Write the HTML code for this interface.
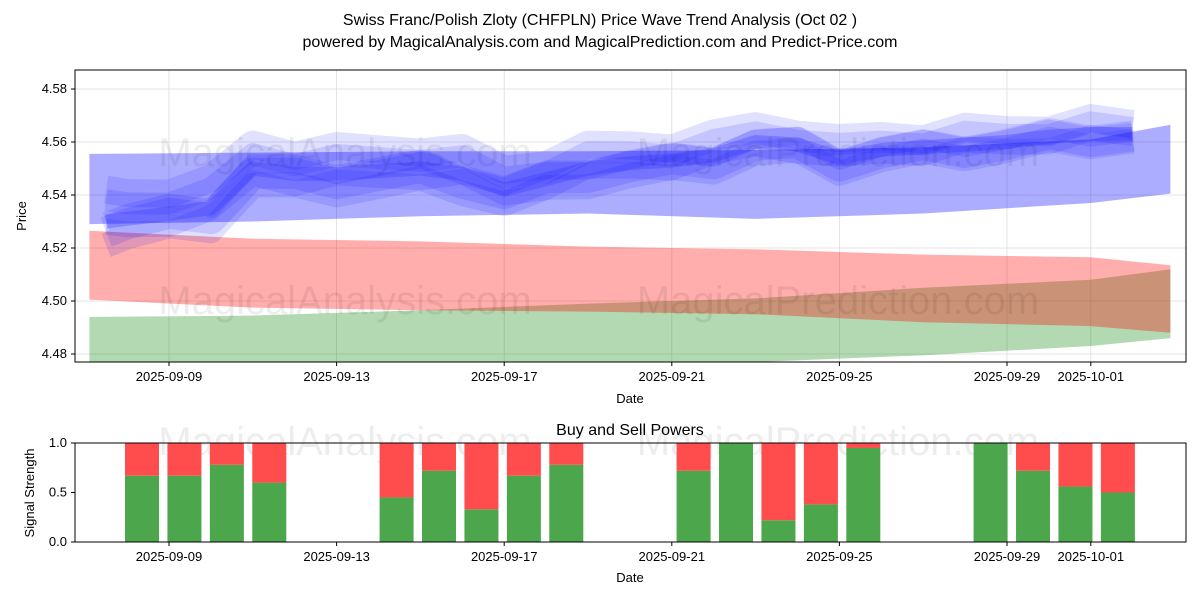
<!DOCTYPE html>
<html><head><meta charset="utf-8"><style>
body{margin:0;background:#fff;font-family:"Liberation Sans",sans-serif}
svg text{font-family:"Liberation Sans",sans-serif}
</style></head><body>
<svg id="c" width="1200" height="600" xmlns="http://www.w3.org/2000/svg">
<text x="600" y="25" text-anchor="middle" font-size="16">Swiss Franc/Polish Zloty (CHFPLN) Price Wave Trend Analysis (Oct 02 )</text>
<text x="600" y="47" text-anchor="middle" font-size="16">powered by MagicalAnalysis.com and MagicalPrediction.com and Predict-Price.com</text>
<g id="topg"></g><g id="bot"></g>
</svg>
<script>
// ---- data ----
const xTickLabels=["2025-09-09","2025-09-13","2025-09-17","2025-09-21","2025-09-25","2025-09-29","2025-10-01"];
const xTickDays=[0,4,8,12,16,20,22];
const yTicks=[4.48,4.50,4.52,4.54,4.56,4.58];
const bandDays=[-1.9,2,6,10,14,18,22,23.9];
const redTop=[4.5265,4.5235,4.5225,4.5205,4.5195,4.5175,4.5165,4.5135];
const redBot=[4.5005,4.4975,4.4965,4.4960,4.4950,4.4920,4.4905,4.4880];
const greenTop=[4.4940,4.4945,4.4965,4.4990,4.5010,4.5050,4.5080,4.5120];
const greenBot=[4.4700,4.4710,4.4730,4.4750,4.4770,4.4795,4.4830,4.4860];
const blueTop=[4.5555,4.5560,4.5565,4.5565,4.5570,4.5580,4.5610,4.5665];
const blueBot=[4.5290,4.5300,4.5320,4.5330,4.5310,4.5330,4.5370,4.5405];
const waveDays=[-1.5,-1,0,1,2,3,4,5,6,7,8,9,10,11,12,13,14,15,16,17,18,19,20,21,22,23];
const waveMain=[4.530,4.531,4.533,4.535,4.550,4.548,4.548,4.549,4.550,4.548,4.542,4.546,4.550,4.552,4.553,4.555,4.560,4.559,4.554,4.557,4.558,4.559,4.560,4.562,4.563,4.563];
const waveOffsets=[-0.004,0.002,0.006,-0.007,0.010,-0.002];
const barDays=[0,1,2,3,6,7,8,9,10,13,14,15,16,17,20,21,22,23];
const buyPower=[0.67,0.67,0.78,0.6,0.45,0.72,0.33,0.67,0.78,0.72,1.0,0.22,0.38,0.95,1.0,0.72,0.56,0.5];
// ---- axes ----
const NS="http://www.w3.org/2000/svg";
const xd=d=>169+41.9*d;
const xbar=d=>142+42.43*d;
const yp=v=>301-(v-4.50)*2650;
const yb=v=>542-v*99;
function mk(p,t,a){const e=document.createElementNS(NS,t);for(const k in a)e.setAttribute(k,a[k]);p.appendChild(e);return e;}
const topG=document.getElementById('topg'),bot=document.getElementById('bot');
const cp=mk(topG,'clipPath',{id:'cp'});mk(cp,'rect',{x:75,y:70,width:1111,height:292});
xTickDays.forEach(d=>{const g=mk(topG,'line',{x1:xd(d),x2:xd(d),y1:70,y2:362,stroke:'#ddd','stroke-width':0.8});});
yTicks.forEach(v=>{const g=mk(topG,'line',{x1:75,x2:1186,y1:yp(v),y2:yp(v),stroke:'#ddd','stroke-width':0.8});});
const pg=mk(topG,'g',{'clip-path':'url(#cp)'});
function band(t,b,col,op,name){let pts=bandDays.map((d,i)=>xd(d)+','+yp(t[i]));pts=pts.concat(bandDays.map((d,i)=>xd(d)+','+yp(b[i])).reverse());const e=mk(pg,'polygon',{points:pts.join(' '),fill:col,'fill-opacity':op});}
band(greenTop,greenBot,'#008000',0.3,'green-band');
band(redTop,redBot,'#ff0000',0.32,'red-band');
band(blueTop,blueBot,'#0000ff',0.32,'blue-band');
waveOffsets.forEach((o,k)=>{const pts=waveDays.map((d,i)=>xd(d)+','+yp(waveMain[i]+o*(1-i/40)+(i%3-1)*0.002*(k%2?1:-1))).join(' ');const e=mk(pg,'polyline',{points:pts,fill:'none',stroke:'#0000ff','stroke-opacity':0.12,'stroke-width':16+k*3,'stroke-linejoin':'round'});});
{const pts=waveDays.map((d,i)=>xd(d)+','+yp(waveMain[i])).join(' ');const e=mk(pg,'polyline',{points:pts,fill:'none',stroke:'#3333ff','stroke-opacity':0.3,'stroke-width':14,'stroke-linejoin':'round'});}
[[345,300],[838,300],[345,152],[838,152]].forEach((p,i)=>{const t=mk(topG,'text',{x:p[0],y:p[1]+14,'text-anchor':'middle','font-size':40,fill:'#000','fill-opacity':0.07});t.textContent=i%2?'MagicalPrediction.com':'MagicalAnalysis.com';});
{const f=mk(topG,'rect',{x:75,y:70,width:1111,height:292,fill:'none',stroke:'#000','stroke-width':1});}
yTicks.forEach(v=>{mk(topG,'line',{x1:71,x2:75,y1:yp(v),y2:yp(v),stroke:'#000'});const t=mk(topG,'text',{x:67,y:yp(v)+4,'text-anchor':'end','font-size':13});t.textContent=v.toFixed(2);});
xTickDays.forEach((d,i)=>{mk(topG,'line',{x1:xd(d),x2:xd(d),y1:362,y2:366,stroke:'#000'});const t=mk(topG,'text',{x:xd(d),y:381,'text-anchor':'middle','font-size':13});t.textContent=xTickLabels[i];});
{const t=mk(topG,'text',{x:630,y:403,'text-anchor':'middle','font-size':13});t.textContent='Date';}
{const t=mk(topG,'text',{x:26,y:216,'text-anchor':'middle','font-size':13,transform:'rotate(-90 26 216)'});t.textContent='Price';}
{const t=mk(bot,'text',{x:630,y:435,'text-anchor':'middle','font-size':16});t.textContent='Buy and Sell Powers';}
[[345,455],[838,455]].forEach((p,i)=>{const t=mk(bot,'text',{x:p[0],y:p[1],'text-anchor':'middle','font-size':40,fill:'#000','fill-opacity':0.07});t.textContent=i?'MagicalPrediction.com':'MagicalAnalysis.com';});
barDays.forEach((d,i)=>{const cx=xbar(d);const g=mk(bot,'rect',{x:cx-17,y:yb(buyPower[i]),width:34,height:yb(0)-yb(buyPower[i]),fill:'#4ca64c'});const r=mk(bot,'rect',{x:cx-17,y:yb(1),width:34,height:yb(buyPower[i])-yb(1),fill:'#ff4c4c'});});
{const f=mk(bot,'rect',{x:75,y:443,width:1111,height:99,fill:'none',stroke:'#000','stroke-width':1});}
[0,0.5,1].forEach(v=>{mk(bot,'line',{x1:71,x2:75,y1:yb(v),y2:yb(v),stroke:'#000'});const t=mk(bot,'text',{x:67,y:yb(v)+4,'text-anchor':'end','font-size':13});t.textContent=v.toFixed(1);});
xTickDays.forEach((d,i)=>{mk(bot,'line',{x1:xd(d),x2:xd(d),y1:542,y2:546,stroke:'#000'});const t=mk(bot,'text',{x:xd(d),y:561,'text-anchor':'middle','font-size':13});t.textContent=xTickLabels[i];});
{const t=mk(bot,'text',{x:630,y:582,'text-anchor':'middle','font-size':13});t.textContent='Date';}
{const t=mk(bot,'text',{x:34,y:493,'text-anchor':'middle','font-size':13,transform:'rotate(-90 34 493)'});t.textContent='Signal Strength';}
</script>
</body></html>
